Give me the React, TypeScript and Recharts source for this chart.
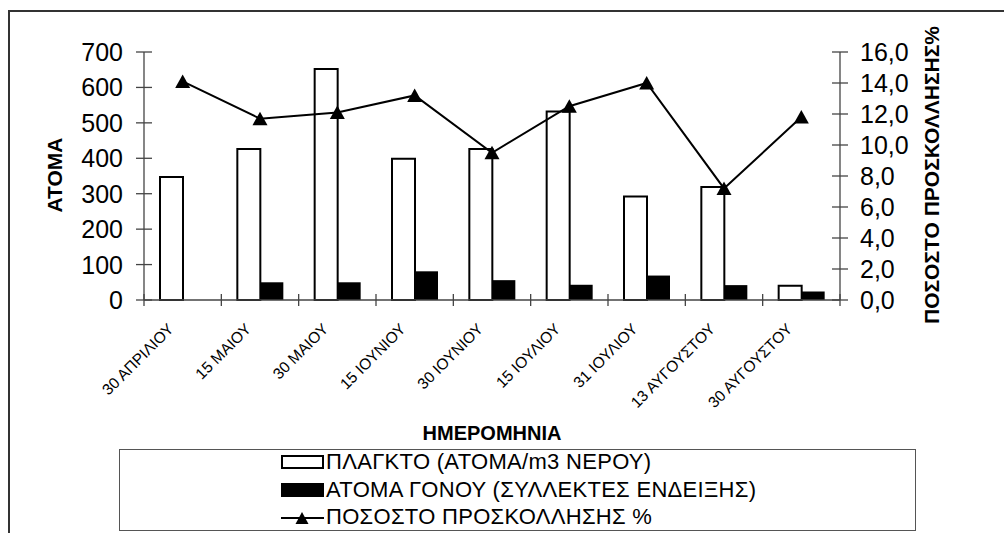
import { ComposedChart, Bar, Line, XAxis, YAxis } from 'recharts';

// dates of sampling
const dates = [
  '30 ΑΠΡΙΛΙΟΥ',
  '15 ΜΑΙΟΥ',
  '30 ΜΑΙΟΥ',
  '15 ΙΟΥΝΙΟΥ',
  '30 ΙΟΥΝΙΟΥ',
  '15 ΙΟΥΛΙΟΥ',
  '31 ΙΟΥΛΙΟΥ',
  '13 ΑΥΓΟΥΣΤΟΥ',
  '30 ΑΥΓΟΥΣΤΟΥ',
];
// individuals per m3 water
const plankton = [347, 426, 652, 399, 426, 532, 292, 319, 40];
// spat on collectors
const spat = [0, 50, 50, 81, 56, 43, 69, 42, 24];
// attachment rate %
const attachment = [14.1, 11.7, 12.1, 13.2, 9.5, 12.5, 14.0, 7.2, 11.8];

const leftTicks = [0, 100, 200, 300, 400, 500, 600, 700];
const rightTicks = [0, 2, 4, 6, 8, 10, 12, 14, 16];

const data = dates.map((d, i) => ({
  date: d,
  plankton: plankton[i],
  spat: spat[i],
  attachment: attachment[i],
}));

const FONT = '"Liberation Sans", Arial, sans-serif';
const AXIS = '#444';
const PLOT_LEFT = 144;
const PLOT_RIGHT = 840;
const BAND = (PLOT_RIGHT - PLOT_LEFT) / dates.length;

const LeftTick = (props: any) => {
  const { x, y, payload } = props;
  return (
    <g>
      <line x1={x - 8} x2={x + 8} y1={y} y2={y} stroke={AXIS} strokeWidth={1.3} />
      <text x={x - 21} y={y} dy="0.36em" textAnchor="end" fontSize={25} fill="#000" fontFamily={FONT}>
        {payload.value}
      </text>
    </g>
  );
};

const RightTick = (props: any) => {
  const { x, y, payload } = props;
  return (
    <g>
      <line x1={x - 8} x2={x + 8} y1={y} y2={y} stroke={AXIS} strokeWidth={1.3} />
      <text x={x + 20} y={y} dy="0.36em" textAnchor="start" fontSize={25} fill="#000" fontFamily={FONT}>
        {Number(payload.value).toFixed(1).replace('.', ',')}
      </text>
    </g>
  );
};

const DateTick = (props: any) => {
  const { x, y, payload, index } = props;
  const edge = x - BAND / 2;
  const tx = x - 8;
  const ty = y + 30;
  return (
    <g>
      <line x1={edge} x2={edge} y1={y - 6} y2={y + 6} stroke={AXIS} strokeWidth={1.3} />
      {index === dates.length - 1 && (
        <line x1={x + BAND / 2} x2={x + BAND / 2} y1={y - 6} y2={y + 6} stroke={AXIS} strokeWidth={1.3} />
      )}
      <text
        x={tx}
        y={ty}
        transform={`rotate(-45 ${tx} ${ty})`}
        textAnchor="end"
        fontSize={15.5}
        fill="#000"
        fontFamily={FONT}
      >
        {payload.value}
      </text>
    </g>
  );
};

const Triangle = (props: any) => {
  const { cx, cy } = props;
  if (cx == null || cy == null) return null;
  return <polygon points={`${cx - 7.5},${cy + 6.5} ${cx + 7.5},${cy + 6.5} ${cx},${cy - 7}`} fill="#000" />;
};

export default function App() {
  return (
    <div style={{ position: 'absolute', left: 0, top: 0, width: 1004, height: 533, background: '#fff', overflow: 'hidden' }}>
      {/* frame */}
      <div
        style={{
          position: 'absolute',
          left: 8,
          top: 10,
          width: 1100,
          height: 600,
          borderLeft: '2px solid #333',
          borderTop: '2px solid #333',
        }}
      />
      <div style={{ position: 'absolute', left: 0, top: 0 }}>
        <ComposedChart
          width={1004}
          height={533}
          data={data}
          margin={{ top: 52, right: 104, bottom: 173, left: 84 }}
          barGap={0}
        >
          <XAxis
            dataKey="date"
            interval={0}
            height={60}
            tickSize={0}
            tickMargin={0}
            tickLine={false}
            stroke={AXIS}
            strokeWidth={1.3}
            tick={DateTick}
            label={{
              content: () => (
                <text x={492} y={440} textAnchor="middle" fontSize={20} fontWeight="bold" fill="#000" fontFamily={FONT}>
                  ΗΜΕΡΟΜΗΝΙΑ
                </text>
              ),
            }}
          />
          <YAxis
            yAxisId="left"
            orientation="left"
            width={60}
            domain={[0, 700]}
            ticks={leftTicks}
            tickSize={0}
            tickMargin={0}
            tickLine={false}
            stroke={AXIS}
            strokeWidth={1.3}
            tick={LeftTick}
            label={{
              content: () => (
                <text
                  x={62}
                  y={175}
                  transform="rotate(-90 62 175)"
                  textAnchor="middle"
                  fontSize={21}
                  fontWeight="bold"
                  fill="#000"
                  fontFamily={FONT}
                >
                  ΑΤΟΜΑ
                </text>
              ),
            }}
          />
          <YAxis
            yAxisId="right"
            orientation="right"
            width={60}
            domain={[0, 16]}
            ticks={rightTicks}
            tickSize={0}
            tickMargin={0}
            tickLine={false}
            stroke={AXIS}
            strokeWidth={1.3}
            tick={RightTick}
            label={{
              content: () => (
                <text
                  x={939}
                  y={175}
                  transform="rotate(-90 939 175)"
                  textAnchor="middle"
                  fontSize={21}
                  fontWeight="bold"
                  fill="#000"
                  fontFamily={FONT}
                >
                  ΠΟΣΟΣΤΟ ΠΡΟΣΚΟΛΛΗΣΗΣ%
                </text>
              ),
            }}
          />
          <Bar yAxisId="left" dataKey="plankton" barSize={23} fill="#fff" stroke="#000" strokeWidth={2} isAnimationActive={false} />
          <Bar yAxisId="left" dataKey="spat" barSize={23} fill="#000" isAnimationActive={false} />
          <Line
            yAxisId="right"
            dataKey="attachment"
            type="linear"
            stroke="#000"
            strokeWidth={2}
            dot={<Triangle />}
            activeDot={false}
            isAnimationActive={false}
          />
        </ComposedChart>
      </div>

      {/* legend */}
      <div
        style={{
          position: 'absolute',
          left: 119,
          top: 449,
          width: 797,
          height: 82,
          boxSizing: 'border-box',
          border: '1.5px solid #555',
          fontFamily: FONT,
          fontSize: 22,
          letterSpacing: 0.3,
          color: '#000',
        }}
      >
        {[
          { label: 'ΠΛΑΓΚΤΟ (ΑΤΟΜΑ/m3 ΝΕΡΟΥ)', kind: 'hollow' },
          { label: 'ΑΤΟΜΑ ΓΟΝΟΥ (ΣΥΛΛΕΚΤΕΣ ΕΝΔΕΙΞΗΣ)', kind: 'solid' },
          { label: 'ΠΟΣΟΣΤΟ ΠΡΟΣΚΟΛΛΗΣΗΣ %', kind: 'line' },
        ].map((item, i) => (
          <div
            key={item.label}
            style={{ position: 'absolute', left: 160, top: 12 + i * 27.5 - 13, height: 26, display: 'flex', alignItems: 'center' }}
          >
            <svg width={46} height={26} style={{ display: 'block' }}>
              {item.kind === 'hollow' && <rect x={2} y={7} width={41} height={12} fill="#fff" stroke="#000" strokeWidth={2} />}
              {item.kind === 'solid' && <rect x={1} y={6} width={43} height={14} fill="#000" />}
              {item.kind === 'line' && (
                <g>
                  <line x1={1} x2={44} y1={14} y2={14} stroke="#000" strokeWidth={2} />
                  <polygon points="15.5,20 28.5,20 22,8" fill="#000" />
                </g>
              )}
            </svg>
            <span style={{ whiteSpace: 'nowrap', lineHeight: '26px' }}>{item.label}</span>
          </div>
        ))}
      </div>
    </div>
  );
}
